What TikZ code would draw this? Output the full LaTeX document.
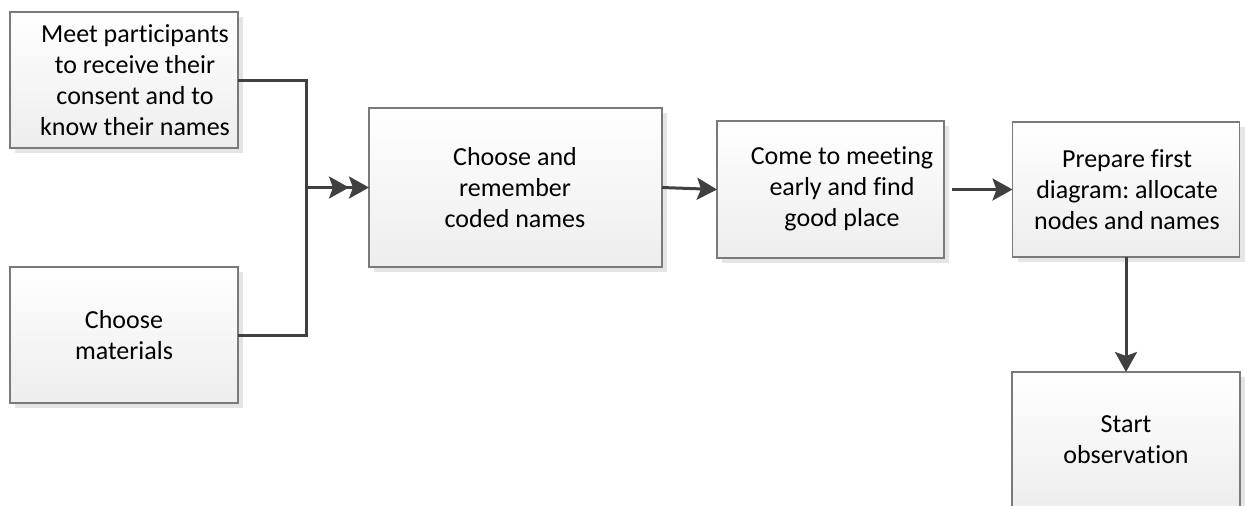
\documentclass[tikz,border=0pt]{standalone}
\usepackage{fontspec}
\setmainfont{Carlito}[Ligatures=NoCommon]
\frenchspacing
\usetikzlibrary{arrows.meta,shadows}
\definecolor{linegray}{HTML}{404040}
\definecolor{framegray}{HTML}{7A7A7A}
\tikzset{
  stepbox/.style={rectangle, draw=framegray, line width=1.1pt, inner sep=0pt, outer sep=0pt,
    top color=white, bottom color=black!7,
    drop shadow={shadow xshift=5pt, shadow yshift=-5pt, fill=black!10, opacity=1}},
  boxtext/.style={align=center, inner sep=0pt,
    font=\fontsize{26}{31}\selectfont},
  conn/.style={line width=3pt, draw=linegray},
  head/.style={-{Stealth[length=20pt,width=22pt,inset=4pt]}, fill=linegray},
  dhead/.style={-{Stealth[length=20pt,width=22pt,inset=4pt]Stealth[length=20pt,width=22pt,inset=4pt]}, fill=linegray}
}
\begin{document}
\begin{tikzpicture}[x=1pt,y=-1pt]
  \useasboundingbox (0,0) rectangle (1245,506);
  \clip (0,0) rectangle (1245,506);

  % boxes
  \node[stepbox, minimum width=228pt, minimum height=136pt] (A) at (124,80) {};
  \node[stepbox, minimum width=228pt, minimum height=136pt] (B) at (124,335) {};
  \node[stepbox, minimum width=293pt, minimum height=159pt] (C) at (515.5,187.5) {};
  \node[stepbox, minimum width=227pt, minimum height=137pt] (D) at (830.5,189.5) {};
  \node[stepbox, minimum width=227pt, minimum height=135pt] (E) at (1126,189.5) {};
  \node[stepbox, minimum width=228pt, minimum height=138pt] (F) at (1126,441) {};

  % box texts
  \node[boxtext] (At) at (135,80) {Meet participants\\to receive their\\consent and to\\know their names};
  \node[boxtext] (Bt) at (124,335.5) {Choose\\materials};
  \node[boxtext] (Ct) at (515,188) {Choose and\\remember\\coded names};
  \node[boxtext] (Dt) at (842,189) {Come to meeting\\early and find\\good place};
  \node[boxtext] (Et) at (1127,190) {Prepare first\\diagram: allocate\\nodes and names};
  \node[boxtext] (Ft) at (1126,440) {Start\\observation};

  % connectors
  \coordinate (J) at (306,187.5);
  \draw[conn] (A.east) -| (J) |- (B.east);
  \draw[conn, dhead] (J) -- (C.west);
  \draw[conn, head] (C.east) -- (D.west);
  \draw[conn, head, shorten <=8pt] (D.east) -- (E.west);
  \draw[conn, head] (E.south) -- (F.north);
\end{tikzpicture}
\end{document}
